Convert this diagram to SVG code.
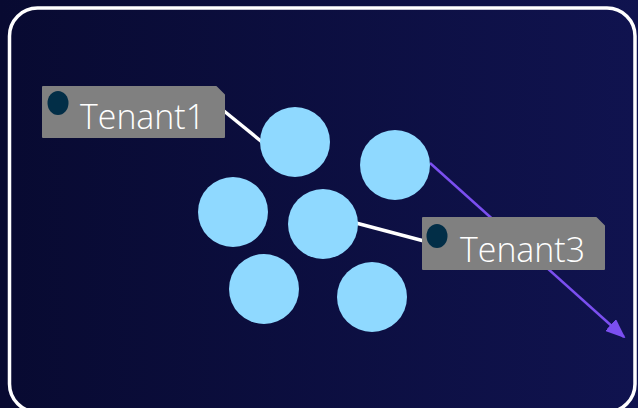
<svg xmlns="http://www.w3.org/2000/svg" width="638" height="408" viewBox="0 0 638 408">
<defs>
<linearGradient id="bg" x1="0" y1="0" x2="1" y2="0">
<stop offset="0" stop-color="#080a31"/>
<stop offset="1" stop-color="#10134f"/>
</linearGradient>
<marker id="ah" markerWidth="20" markerHeight="16" refX="18" refY="8" orient="auto" markerUnits="userSpaceOnUse">
<path d="M0,0 L20,8 L0,16 Z" fill="#7b4ff0"/>
</marker>
<style>
.c{fill:#8fd9ff}
.tag{fill:#808080;stroke:#808080;stroke-width:2;stroke-linejoin:round}
.dot{fill:#022e47}
.lbl{font-family:"Open Sans","DejaVu Sans",sans-serif;font-weight:300;font-size:35px;fill:#ffffff}
.w{stroke:#ffffff;stroke-width:3.5;fill:none}
</style>
</defs>
<rect x="0" y="0" width="638" height="408" fill="url(#bg)"/>
<rect x="9.5" y="8" width="625.5" height="404" rx="28" fill="none" stroke="#ffffff" stroke-width="3.5"/>
<g id="connectors">
<line x1="430" y1="163" x2="624" y2="337" stroke="#7b4ff0" stroke-width="2.5" marker-end="url(#ah)"/>
<line class="w" x1="224" y1="111" x2="262" y2="142"/>
<line class="w" x1="356" y1="223" x2="424" y2="241"/>
</g>
<g id="pod1"><circle class="c" cx="295" cy="142" r="35"/></g>
<g id="pod2"><circle class="c" cx="395" cy="165" r="35"/></g>
<g id="pod3"><circle class="c" cx="233" cy="212" r="35"/></g>
<g id="pod4"><circle class="c" cx="323" cy="224" r="35"/></g>
<g id="pod5"><circle class="c" cx="264" cy="289" r="35"/></g>
<g id="pod6"><circle class="c" cx="372" cy="297" r="35"/></g>
<g id="tenant1">
<path class="tag" d="M43,87 H216 L224,95 V137 H43 Z"/>
<ellipse class="dot" cx="58" cy="103" rx="10.5" ry="12"/>
<text class="lbl" x="80" y="129" textLength="125" lengthAdjust="spacingAndGlyphs">Tenant1</text>
</g>
<g id="tenant3">
<path class="tag" d="M423,218 H596 L604,226 V269 H423 Z"/>
<ellipse class="dot" cx="437" cy="236" rx="10.5" ry="12"/>
<text class="lbl" x="460" y="262" textLength="125" lengthAdjust="spacingAndGlyphs">Tenant3</text>
</g>
</svg>
